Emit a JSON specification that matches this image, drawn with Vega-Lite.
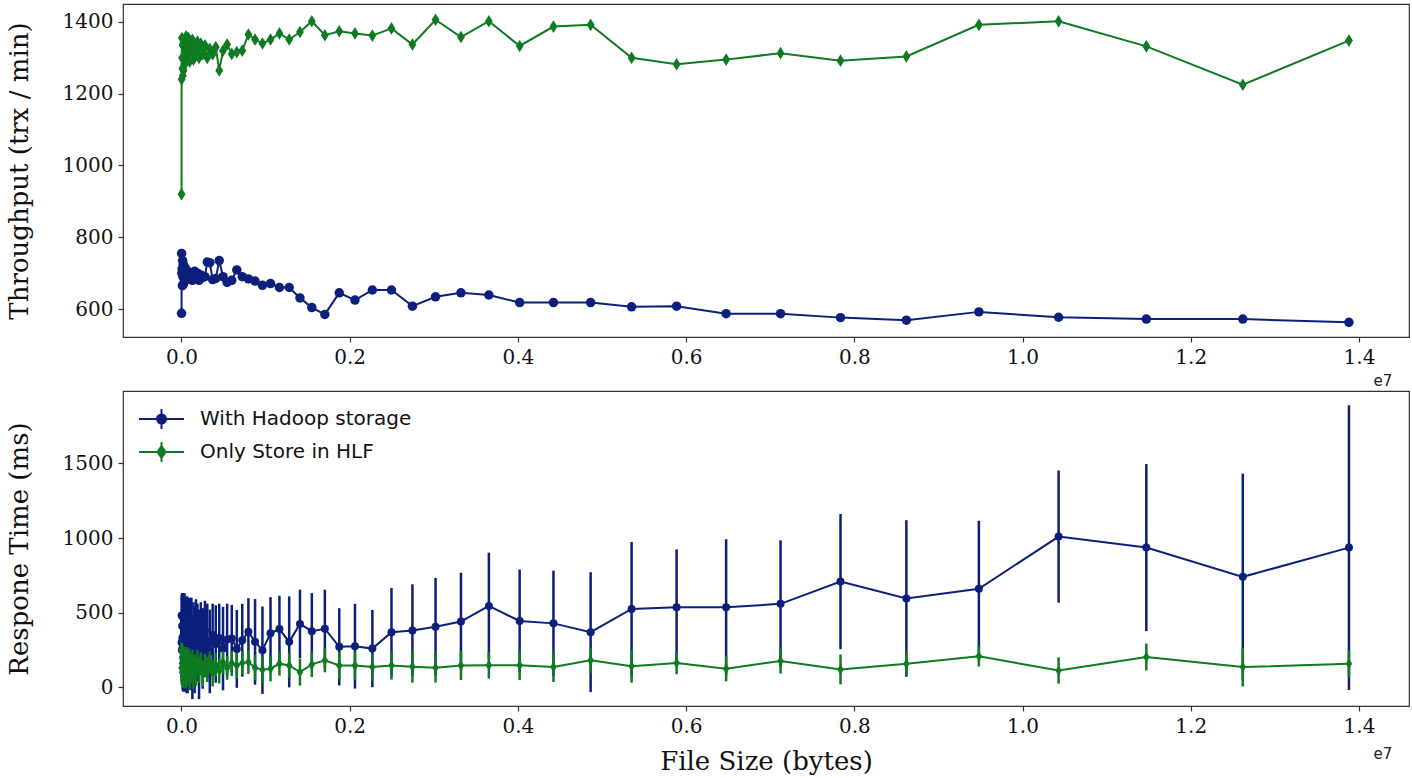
{
"$schema": "https://vega.github.io/schema/vega-lite/v6.json",
"padding": {"left": 5, "top": 3, "right": 0, "bottom": 0},
"background": "white",
"spacing": 0,
"resolve": {"legend": {"color": "independent", "shape": "independent"}, "scale": {"color": "independent", "shape": "independent"}},
"config": {
  "view": {"stroke": "#333333", "strokeWidth": 1.2},
  "axis": {"grid": false, "domain": false, "tickColor": "#333333", "tickSize": 5, "tickWidth": 1.2, "labelFont": "DejaVu Serif", "labelFontSize": 20, "labelColor": "#111111", "labelPadding": 5, "titleFont": "DejaVu Serif", "titleFontSize": 26, "titleFontWeight": "normal", "titleColor": "#111111", "titlePadding": 30}
},
"data": {"values": [
{"size":13881000,"series":"With Hadoop storage","tput":563,"resp":936,"sd":954},{"size":13881000,"series":"Only Store in HLF","tput":1348,"resp":158,"sd":88},
{"size":12619000,"series":"With Hadoop storage","tput":572,"resp":740,"sd":692},{"size":12619000,"series":"Only Store in HLF","tput":1225,"resp":135,"sd":130},
{"size":11472000,"series":"With Hadoop storage","tput":572,"resp":936,"sd":560},{"size":11472000,"series":"Only Store in HLF","tput":1332,"resp":203,"sd":90},
{"size":10429000,"series":"With Hadoop storage","tput":577,"resp":1010,"sd":443},{"size":10429000,"series":"Only Store in HLF","tput":1402,"resp":112,"sd":88},
{"size":9481000,"series":"With Hadoop storage","tput":592,"resp":660,"sd":456},{"size":9481000,"series":"Only Store in HLF","tput":1392,"resp":207,"sd":68},
{"size":8619000,"series":"With Hadoop storage","tput":569,"resp":595,"sd":525},{"size":8619000,"series":"Only Store in HLF","tput":1304,"resp":158,"sd":80},
{"size":7836000,"series":"With Hadoop storage","tput":576,"resp":708,"sd":453},{"size":7836000,"series":"Only Store in HLF","tput":1292,"resp":119,"sd":100},
{"size":7123000,"series":"With Hadoop storage","tput":587,"resp":559,"sd":426},{"size":7123000,"series":"Only Store in HLF","tput":1313,"resp":176,"sd":85},
{"size":6476000,"series":"With Hadoop storage","tput":587,"resp":536,"sd":456},{"size":6476000,"series":"Only Store in HLF","tput":1295,"resp":124,"sd":85},
{"size":5887000,"series":"With Hadoop storage","tput":608,"resp":536,"sd":388},{"size":5887000,"series":"Only Store in HLF","tput":1282,"resp":162,"sd":75},
{"size":5352000,"series":"With Hadoop storage","tput":606,"resp":525,"sd":449},{"size":5352000,"series":"Only Store in HLF","tput":1300,"resp":140,"sd":110},
{"size":4865000,"series":"With Hadoop storage","tput":618,"resp":369,"sd":402},{"size":4865000,"series":"Only Store in HLF","tput":1392,"resp":180,"sd":85},
{"size":4423000,"series":"With Hadoop storage","tput":618,"resp":428,"sd":354},{"size":4423000,"series":"Only Store in HLF","tput":1387,"resp":135,"sd":100},
{"size":4021000,"series":"With Hadoop storage","tput":618,"resp":444,"sd":345},{"size":4021000,"series":"Only Store in HLF","tput":1333,"resp":148,"sd":100},
{"size":3655000,"series":"With Hadoop storage","tput":639,"resp":545,"sd":357},{"size":3655000,"series":"Only Store in HLF","tput":1402,"resp":148,"sd":90},
{"size":3323000,"series":"With Hadoop storage","tput":645,"resp":440,"sd":327},{"size":3323000,"series":"Only Store in HLF","tput":1358,"resp":146,"sd":98},
{"size":3021000,"series":"With Hadoop storage","tput":634,"resp":406,"sd":327},{"size":3021000,"series":"Only Store in HLF","tput":1406,"resp":131,"sd":100},
{"size":2746000,"series":"With Hadoop storage","tput":608,"resp":381,"sd":309},{"size":2746000,"series":"Only Store in HLF","tput":1337,"resp":137,"sd":107},
{"size":2497000,"series":"With Hadoop storage","tput":653,"resp":369,"sd":296},{"size":2497000,"series":"Only Store in HLF","tput":1382,"resp":146,"sd":95},
{"size":2270000,"series":"With Hadoop storage","tput":653,"resp":259,"sd":259},{"size":2270000,"series":"Only Store in HLF","tput":1362,"resp":135,"sd":90},
{"size":2063000,"series":"With Hadoop storage","tput":625,"resp":275,"sd":284},{"size":2063000,"series":"Only Store in HLF","tput":1368,"resp":146,"sd":95},
{"size":1876000,"series":"With Hadoop storage","tput":645,"resp":271,"sd":259},{"size":1876000,"series":"Only Store in HLF","tput":1374,"resp":146,"sd":90},
{"size":1705000,"series":"With Hadoop storage","tput":585,"resp":392,"sd":262},{"size":1705000,"series":"Only Store in HLF","tput":1363,"resp":180,"sd":80},
{"size":1550000,"series":"With Hadoop storage","tput":604,"resp":376,"sd":255},{"size":1550000,"series":"Only Store in HLF","tput":1402,"resp":153,"sd":85},
{"size":1409000,"series":"With Hadoop storage","tput":631,"resp":424,"sd":230},{"size":1409000,"series":"Only Store in HLF","tput":1372,"resp":101,"sd":90},
{"size":1281000,"series":"With Hadoop storage","tput":660,"resp":304,"sd":305},{"size":1281000,"series":"Only Store in HLF","tput":1351,"resp":146,"sd":85},
{"size":1165000,"series":"With Hadoop storage","tput":660,"resp":390,"sd":223},{"size":1165000,"series":"Only Store in HLF","tput":1368,"resp":158,"sd":80},
{"size":1059000,"series":"With Hadoop storage","tput":671,"resp":361,"sd":243},{"size":1059000,"series":"Only Store in HLF","tput":1351,"resp":124,"sd":85},
{"size":963000,"series":"With Hadoop storage","tput":666,"resp":248,"sd":293},{"size":963000,"series":"Only Store in HLF","tput":1340,"resp":117,"sd":90},
{"size":875000,"series":"With Hadoop storage","tput":678,"resp":304,"sd":287},{"size":875000,"series":"Only Store in HLF","tput":1351,"resp":131,"sd":85},
{"size":796000,"series":"With Hadoop storage","tput":684,"resp":372,"sd":225},{"size":796000,"series":"Only Store in HLF","tput":1365,"resp":169,"sd":80},
{"size":723000,"series":"With Hadoop storage","tput":690,"resp":315,"sd":244},{"size":723000,"series":"Only Store in HLF","tput":1320,"resp":162,"sd":80},
{"size":658000,"series":"With Hadoop storage","tput":709,"resp":257,"sd":261},{"size":658000,"series":"Only Store in HLF","tput":1316,"resp":146,"sd":85},
{"size":598000,"series":"With Hadoop storage","tput":680,"resp":327,"sd":225},{"size":598000,"series":"Only Store in HLF","tput":1311,"resp":160,"sd":85},
{"size":543000,"series":"With Hadoop storage","tput":674,"resp":320,"sd":240},{"size":543000,"series":"Only Store in HLF","tput":1337,"resp":130,"sd":80},
{"size":494000,"series":"With Hadoop storage","tput":690,"resp":259,"sd":280},{"size":494000,"series":"Only Store in HLF","tput":1320,"resp":165,"sd":75},
{"size":449000,"series":"With Hadoop storage","tput":735,"resp":330,"sd":230},{"size":449000,"series":"Only Store in HLF","tput":1265,"resp":110,"sd":85},
{"size":408000,"series":"With Hadoop storage","tput":685,"resp":290,"sd":260},{"size":408000,"series":"Only Store in HLF","tput":1330,"resp":150,"sd":80},
{"size":371000,"series":"With Hadoop storage","tput":682,"resp":350,"sd":210},{"size":371000,"series":"Only Store in HLF","tput":1310,"resp":95,"sd":90},
{"size":337000,"series":"With Hadoop storage","tput":729,"resp":240,"sd":280},{"size":337000,"series":"Only Store in HLF","tput":1325,"resp":170,"sd":70},
{"size":307000,"series":"With Hadoop storage","tput":731,"resp":310,"sd":250},{"size":307000,"series":"Only Store in HLF","tput":1300,"resp":120,"sd":85},
{"size":279000,"series":"With Hadoop storage","tput":690,"resp":380,"sd":200},{"size":279000,"series":"Only Store in HLF","tput":1335,"resp":145,"sd":80},
{"size":253000,"series":"With Hadoop storage","tput":688,"resp":260,"sd":270},{"size":253000,"series":"Only Store in HLF","tput":1310,"resp":90,"sd":90},
{"size":230000,"series":"With Hadoop storage","tput":695,"resp":330,"sd":240},{"size":230000,"series":"Only Store in HLF","tput":1340,"resp":160,"sd":75},
{"size":209000,"series":"With Hadoop storage","tput":680,"resp":220,"sd":300},{"size":209000,"series":"Only Store in HLF","tput":1300,"resp":115,"sd":85},
{"size":190000,"series":"With Hadoop storage","tput":700,"resp":300,"sd":260},{"size":190000,"series":"Only Store in HLF","tput":1345,"resp":180,"sd":70},
{"size":173000,"series":"With Hadoop storage","tput":685,"resp":400,"sd":190},{"size":173000,"series":"Only Store in HLF","tput":1315,"resp":100,"sd":90},
{"size":157000,"series":"With Hadoop storage","tput":705,"resp":250,"sd":290},{"size":157000,"series":"Only Store in HLF","tput":1340,"resp":140,"sd":80},
{"size":143000,"series":"With Hadoop storage","tput":690,"resp":340,"sd":230},{"size":143000,"series":"Only Store in HLF","tput":1295,"resp":85,"sd":95},
{"size":130000,"series":"With Hadoop storage","tput":680,"resp":200,"sd":280},{"size":130000,"series":"Only Store in HLF","tput":1350,"resp":175,"sd":75},
{"size":118000,"series":"With Hadoop storage","tput":698,"resp":360,"sd":240},{"size":118000,"series":"Only Store in HLF","tput":1320,"resp":110,"sd":85},
{"size":107000,"series":"With Hadoop storage","tput":688,"resp":280,"sd":300},{"size":107000,"series":"Only Store in HLF","tput":1345,"resp":150,"sd":80},
{"size":98000,"series":"With Hadoop storage","tput":702,"resp":430,"sd":170},{"size":98000,"series":"Only Store in HLF","tput":1290,"resp":80,"sd":95},
{"size":89000,"series":"With Hadoop storage","tput":684,"resp":250,"sd":260},{"size":89000,"series":"Only Store in HLF","tput":1335,"resp":190,"sd":70},
{"size":81000,"series":"With Hadoop storage","tput":696,"resp":320,"sd":280},{"size":81000,"series":"Only Store in HLF","tput":1355,"resp":120,"sd":85},
{"size":73000,"series":"With Hadoop storage","tput":690,"resp":210,"sd":250},{"size":73000,"series":"Only Store in HLF","tput":1310,"resp":160,"sd":80},
{"size":67000,"series":"With Hadoop storage","tput":706,"resp":380,"sd":230},{"size":67000,"series":"Only Store in HLF","tput":1345,"resp":95,"sd":90},
{"size":61000,"series":"With Hadoop storage","tput":683,"resp":270,"sd":310},{"size":61000,"series":"Only Store in HLF","tput":1325,"resp":200,"sd":70},
{"size":55000,"series":"With Hadoop storage","tput":698,"resp":450,"sd":150},{"size":55000,"series":"Only Store in HLF","tput":1360,"resp":130,"sd":85},
{"size":50000,"series":"With Hadoop storage","tput":690,"resp":300,"sd":280},{"size":50000,"series":"Only Store in HLF","tput":1300,"resp":85,"sd":95},
{"size":45000,"series":"With Hadoop storage","tput":715,"resp":230,"sd":260},{"size":45000,"series":"Only Store in HLF","tput":1340,"resp":170,"sd":80},
{"size":37000,"series":"With Hadoop storage","tput":680,"resp":400,"sd":230},{"size":37000,"series":"Only Store in HLF","tput":1280,"resp":110,"sd":90},
{"size":31000,"series":"With Hadoop storage","tput":700,"resp":280,"sd":300},{"size":31000,"series":"Only Store in HLF","tput":1350,"resp":210,"sd":60},
{"size":25000,"series":"With Hadoop storage","tput":670,"resp":350,"sd":280},{"size":25000,"series":"Only Store in HLF","tput":1265,"resp":140,"sd":85},
{"size":21000,"series":"With Hadoop storage","tput":725,"resp":200,"sd":230},{"size":21000,"series":"Only Store in HLF","tput":1340,"resp":90,"sd":95},
{"size":17000,"series":"With Hadoop storage","tput":690,"resp":470,"sd":160},{"size":17000,"series":"Only Store in HLF","tput":1250,"resp":180,"sd":75},
{"size":14000,"series":"With Hadoop storage","tput":735,"resp":260,"sd":280},{"size":14000,"series":"Only Store in HLF","tput":1335,"resp":120,"sd":90},
{"size":11000,"series":"With Hadoop storage","tput":665,"resp":330,"sd":300},{"size":11000,"series":"Only Store in HLF","tput":1270,"resp":230,"sd":60},
{"size":8000,"series":"With Hadoop storage","tput":712,"resp":410,"sd":220},{"size":8000,"series":"Only Store in HLF","tput":1300,"resp":100,"sd":90},
{"size":5000,"series":"With Hadoop storage","tput":700,"resp":250,"sd":230},{"size":5000,"series":"Only Store in HLF","tput":1355,"resp":160,"sd":80},
{"size":2000,"series":"With Hadoop storage","tput":755,"resp":480,"sd":140},{"size":2000,"series":"Only Store in HLF","tput":1240,"resp":250,"sd":50},
{"size":1000,"series":"With Hadoop storage","tput":588,"resp":300,"sd":200},{"size":1000,"series":"Only Store in HLF","tput":920,"resp":130,"sd":90}
]},
"vconcat": [
 {
  "width": 1286, "height": 333,
  "encoding": {
    "x": {"field": "size", "type": "quantitative", "scale": {"domain": [-695000, 14595000], "nice": false, "zero": false},
          "axis": {"values": [0, 2000000, 4000000, 6000000, 8000000, 10000000, 12000000, 14000000], "labelExpr": "format(datum.value/1e7, '.1f')", "title": null}},
    "y": {"field": "tput", "type": "quantitative", "scale": {"domain": [522, 1450], "nice": false, "zero": false},
          "axis": {"values": [600, 800, 1000, 1200, 1400], "format": "d", "title": "Throughput (trx / min)"}}
  },
  "layer": [
    {"transform": [{"filter": "datum.series === 'With Hadoop storage'"}], "mark": {"type": "line", "color": "#0c1f7a", "strokeWidth": 2}},
    {"transform": [{"filter": "datum.series === 'With Hadoop storage'"}], "mark": {"type": "point", "filled": true, "shape": "circle", "size": 90, "color": "#0c1f7a", "opacity": 1}},
    {"transform": [{"filter": "datum.series === 'Only Store in HLF'"}], "mark": {"type": "line", "color": "#0e7a22", "strokeWidth": 2}},
    {"transform": [{"filter": "datum.series === 'Only Store in HLF'"}], "mark": {"type": "point", "filled": true, "shape": "M0,-1L0.62,0L0,1L-0.62,0Z", "size": 160, "color": "#0e7a22", "opacity": 1}},
    {"transform": [{"filter": "datum.size === 13881000 && datum.series === 'Only Store in HLF'"}], "mark": {"type": "text", "text": "e7", "font": "DejaVu Sans", "fontSize": 15, "fontWeight": "normal", "color": "#222222"},
     "encoding": {"x": {"datum": 14286000, "type": "quantitative"}, "y": {"datum": 400, "type": "quantitative"}}}
  ]
 },
 {
  "width": 1286, "height": 315,
  "encoding": {
    "x": {"field": "size", "type": "quantitative", "scale": {"domain": [-695000, 14595000], "nice": false, "zero": false},
          "axis": {"values": [0, 2000000, 4000000, 6000000, 8000000, 10000000, 12000000, 14000000], "labelExpr": "format(datum.value/1e7, '.1f')", "title": "File Size (bytes)", "titlePadding": 12}},
    "y": {"field": "resp", "type": "quantitative", "scale": {"domain": [-126, 1986], "nice": false, "zero": false},
          "axis": {"values": [0, 500, 1000, 1500], "format": "d", "title": "Respone Time (ms)"}}
  },
  "layer": [
    {"transform": [{"filter": "datum.series === 'With Hadoop storage'"}], "mark": {"type": "errorbar", "color": "#0c1f7a", "thickness": 2.5}, "encoding": {"yError": {"field": "sd"}}},
    {"transform": [{"filter": "datum.series === 'With Hadoop storage'"}], "mark": {"type": "line", "color": "#0c1f7a", "strokeWidth": 2}},
    {"transform": [{"filter": "datum.series === 'With Hadoop storage'"}], "mark": {"type": "point", "filled": true, "shape": "circle", "size": 64, "color": "#0c1f7a", "opacity": 1}},
    {"transform": [{"filter": "datum.series === 'Only Store in HLF'"}], "mark": {"type": "errorbar", "color": "#0e7a22", "thickness": 2.5}, "encoding": {"yError": {"field": "sd"}}},
    {"transform": [{"filter": "datum.series === 'Only Store in HLF'"}], "mark": {"type": "line", "color": "#0e7a22", "strokeWidth": 2}},
    {"transform": [{"filter": "datum.series === 'Only Store in HLF'"}], "mark": {"type": "point", "filled": true, "shape": "M0,-1L0.62,0L0,1L-0.62,0Z", "size": 110, "color": "#0e7a22", "opacity": 1}},
    {"mark": {"type": "point", "filled": true, "opacity": 0},
     "encoding": {
       "color": {"field": "series", "type": "nominal", "scale": {"domain": ["With Hadoop storage", "Only Store in HLF"], "range": ["#0c1f7a", "#0e7a22"]},
                 "legend": {"orient": "none", "legendX": 27.5, "legendY": 17, "title": null, "padding": 0, "labelFont": "DejaVu Sans", "labelFontSize": 20, "labelColor": "#111111", "labelLimit": 500, "symbolSize": 400, "rowPadding": 5, "labelOffset": 27.5, "symbolStrokeWidth": 2,
                   "encode": {"symbols": {"update": {"fill": {"signal": "datum.value === 'With Hadoop storage' ? '#0c1f7a' : '#0e7a22'"}, "stroke": {"signal": "datum.value === 'With Hadoop storage' ? '#0c1f7a' : '#0e7a22'"}, "opacity": {"value": 1}, "strokeWidth": {"value": 2}}}}}},
       "shape": {"field": "series", "type": "nominal", "scale": {"domain": ["With Hadoop storage", "Only Store in HLF"], "range": ["M-2.25,0L2.25,0M0,-1L0,1M0.45,0A0.45,0.45,0,1,1,-0.45,0A0.45,0.45,0,1,1,0.45,0Z", "M-2.25,0L2.25,0M0,-1L0,1M0,-0.6L0.4,0L0,0.6L-0.4,0Z"]}}
     }},
    {"transform": [{"filter": "datum.size === 13881000 && datum.series === 'Only Store in HLF'"}], "mark": {"type": "text", "text": "e7", "font": "DejaVu Sans", "fontSize": 15, "fontWeight": "normal", "color": "#222222"},
     "encoding": {"x": {"datum": 14286000, "type": "quantitative"}, "y": {"datum": -451, "type": "quantitative"}}}
  ]
 }
]
}
